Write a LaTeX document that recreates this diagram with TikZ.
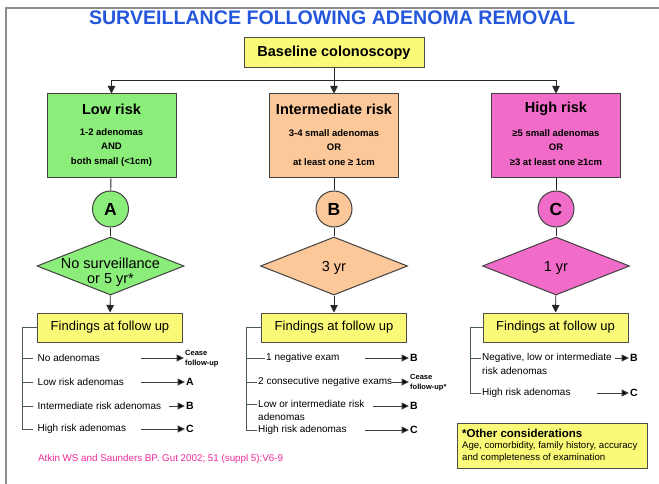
\documentclass[tikz,border=0pt]{standalone}
\usepackage{fontspec}
\setmainfont{Liberation Sans}
\usetikzlibrary{shapes.geometric,arrows.meta,calc}
\newcommand\fsz[2]{\fontsize{#1pt}{#2pt}\selectfont}
\definecolor{lowc}{HTML}{8CEE7A}
\definecolor{midc}{HTML}{FCC89A}
\definecolor{highc}{HTML}{F06CC8}
\definecolor{yel}{HTML}{FAFA78}
\definecolor{ttl}{HTML}{2457DC}
\definecolor{cite}{HTML}{EE2A9A}
\definecolor{brc}{HTML}{4A5A4A}
\tikzset{
 ln/.style={draw=black!85, line width=0.9pt},
 arr/.style={ln, -{Triangle[length=7.5pt,width=7.5pt]}},
 sarr/.style={draw=black!75, line width=1pt, -{Triangle[length=7.5pt,width=7pt,fill=black]}},
 br/.style={draw=brc, line width=1pt},
 ybox/.style={draw=black!70, line width=1pt, fill=yel, inner sep=0pt},
 riskbox/.style={draw=black!75, line width=1pt, minimum width=129pt, minimum height=84pt, inner sep=0pt},
 circ/.style={circle, draw=black!75, line width=1pt, minimum size=36pt, inner sep=0pt, font=\fsz{17.5}{20}\bfseries},
 dia/.style={diamond, draw=black!75, line width=1pt, minimum width=147pt, minimum height=58pt, inner sep=0pt, aspect=2.53},
 hd/.style={font=\fsz{14.5}{17}\bfseries, inner sep=0pt},
 sub/.style={font=\fsz{9.5}{14.8}\bfseries, align=center, inner sep=0pt},
 dtxt/.style={font=\fsz{14.5}{15}, align=center, inner sep=0pt},
 item/.style={font=\fsz{10}{12}, anchor=west, inner sep=1pt},
 litem/.style={item, inner xsep=4.5pt},
 tgt/.style={font=\fsz{10.5}{12}\bfseries, anchor=west, inner sep=1pt},
 cease/.style={font=\fsz{7.5}{10}\bfseries, anchor=west, align=left, inner sep=1pt},
}
\begin{document}
\begin{tikzpicture}[x=1pt,y=-1pt]
\useasboundingbox (0,0) rectangle (659,484);
\fill[white] (0,0) rectangle (659,484);
% frame
\draw[draw=black!45, line width=1.5pt] (659,8) -- (6,8) -- (6,484);
% title
\node[font=\fsz{19.6}{22}\bfseries, text=ttl, inner sep=0pt] (title) at (332,17.5) {SURVEILLANCE FOLLOWING ADENOMA REMOVAL};
% baseline
\node[ybox, minimum width=180pt, minimum height=30pt, font=\fsz{14.5}{17}\bfseries] (base) at (334,53) {Baseline colonoscopy};
% risk boxes
\node[riskbox, fill=lowc] (low) at (111.5,136) {};
\node[riskbox, fill=midc] (mid) at (334,136) {};
\node[riskbox, fill=highc] (high) at (556,136) {};
\draw[arr] (base.south) -- ++(0,12) -| (low.north);
\draw[arr] (base.south) -- (mid.north);
\draw[arr] (base.south) -- ++(0,12) -| (high.north);
\node[hd] (lowh) at (111.5,109) {Low risk};
\node[sub] (lowt) at (111.5,147.5) {1-2 adenomas\\AND\\both small (<1cm)};
\node[hd] (midh) at (334,109) {Intermediate risk};
\node[sub] (midt) at (334,147.5) {3-4 small adenomas\\OR\\at least one ≥ 1cm};
\node[hd] (highh) at (556,109) {High risk};
\node[sub] (hight) at (556,147.5) {≥5 small adenomas\\OR\\≥3 at least one ≥1cm};
% circles
\node[circ, fill=lowc] (ca) at (110.5,209) {A};
\node[circ, fill=midc] (cb) at (334,209) {B};
\node[circ, fill=highc] (cc) at (556,209) {C};
% diamonds
\node[dia, fill=lowc] (da) at (110.5,266) {};
\node[dia, fill=midc] (db) at (334,266) {};
\node[dia, fill=highc] (dc) at (556,266) {};
\node[dtxt] (dat) at (110.5,272) {No surveillance\\or 5 yr*};
\node[dtxt] (dbt) at (334,268) {3 yr};
\node[dtxt] (dct) at (556,268) {1 yr};
\draw[ln] (low) -- (ca); \draw[ln] (ca) -- (da);
\draw[ln] (mid) -- (cb); \draw[ln] (cb) -- (db);
\draw[ln] (high) -- (cc); \draw[ln] (cc) -- (dc);
% findings boxes
\node[ybox, minimum width=145pt, minimum height=29pt, font=\fsz{13}{15}] (fa) at (110,327.5) {Findings at follow up};
\node[ybox, minimum width=145pt, minimum height=29pt, font=\fsz{13}{15}] (fb) at (334,327.5) {Findings at follow up};
\node[ybox, minimum width=145pt, minimum height=29pt, font=\fsz{13}{15}] (fc) at (555.5,327.5) {Findings at follow up};
\draw[arr] (da) -- (fa);
\draw[arr] (db) -- (fb);
\draw[arr] (dc) -- (fc);
% left findings
\node[litem] (a1) at (33,358) {No adenomas};
\node[litem] (a2) at (33,382) {Low risk adenomas};
\node[litem] (a3) at (33,406) {Intermediate risk adenomas};
\node[litem] (a4) at (33,429) {High risk adenomas};
\coordinate (lbot) at (22,429);
\draw[br] (fa.west) -| (lbot) -- (a4.west);
\draw[br] (lbot |- a1.west) -- (a1.west);
\draw[br] (lbot |- a2.west) -- (a2.west);
\draw[br] (lbot |- a3.west) -- (a3.west);
\node[cease] (ta1) at (184,359) {Cease\\follow-up};
\node[tgt] (ta2) at (185,382) {A};
\node[tgt] (ta3) at (185,406) {B};
\node[tgt] (ta4) at (185,429) {C};
\coordinate (sa1) at (141,358);
\coordinate (sa2) at (141,382);
\coordinate (sa3) at (169,406);
\coordinate (sa4) at (141,429);
\draw[sarr] (sa1) -- (sa1 -| ta1.west);
\draw[sarr] (sa2) -- (ta2.west);
\draw[sarr] (sa3) -- (ta3.west);
\draw[sarr] (sa4) -- (ta4.west);
% middle findings
\node[item] (b1) at (265,358) {1 negative exam};
\node[item] (b2) at (257,382) {2 consecutive negative exams};
\node[item] (b3) at (257,404) {Low or intermediate risk};
\node[item] (b3b) at (257,416.5) {adenomas};
\node[item] (b4) at (257,430) {High risk adenomas};
\coordinate (mbot) at (246,430);
\draw[br] (fb.west) -| (mbot) -- (b4.west);
\draw[br] (mbot |- b1.west) -- (b1.west);
\draw[br] (mbot |- b2.west) -- (b2.west);
\draw[br] (mbot |- b3.west) -- (b3.west);
\node[tgt] (tb1) at (409,358) {B};
\node[cease] (tb2) at (409,383) {Cease\\follow-up*};
\node[tgt] (tb3) at (409,406) {B};
\node[tgt] (tb4) at (409,430) {C};
\coordinate (sb1) at (365,358);
\coordinate (sb2) at (392,382);
\coordinate (sb3) at (373,406);
\coordinate (sb4) at (365,430);
\draw[sarr] (sb1) -- (tb1.west);
\draw[sarr] (sb2) -- (sb2 -| tb2.west);
\draw[sarr] (sb3) -- (tb3.west);
\draw[sarr] (sb4) -- (tb4.west);
% right findings
\node[item] (c1) at (481,358) {Negative, low or intermediate};
\node[item] (c1b) at (481,370.5) {risk adenomas};
\node[item] (c2) at (481,393) {High risk adenomas};
\coordinate (rbot) at (470,393);
\draw[br] (fc.west) -| (rbot) -- (c2.west);
\draw[br] (rbot |- c1.west) -- (c1.west);
\node[tgt] (tc1) at (629,358) {B};
\node[tgt] (tc2) at (629,393) {C};
\coordinate (sc1) at (615,358);
\coordinate (sc2) at (597,393);
\draw[sarr] (sc1) -- (tc1.west);
\draw[sarr] (sc2) -- (tc2.west);
% other considerations
\node[ybox, minimum width=190pt, minimum height=45pt, anchor=north west] (oc) at (457,423) {};
\node[font=\fsz{11.5}{13}\bfseries, anchor=west, inner sep=0pt] (oc1) at (462,433.5) {*Other considerations};
\node[font=\fsz{9.6}{12}, anchor=west, inner sep=0pt] (oc2) at (462,446.5) {Age, comorbidity, family history, accuracy};
\node[font=\fsz{9.6}{12}, anchor=west, inner sep=0pt] (oc3) at (462,458.5) {and completeness of examination};
% citation
\node[font=\fsz{9.8}{12}, text=cite, anchor=west, inner sep=0pt] (cit) at (38,459) {Atkin WS and Saunders BP. Gut 2002; 51 (suppl 5):V6-9};
\end{tikzpicture}
\end{document}
